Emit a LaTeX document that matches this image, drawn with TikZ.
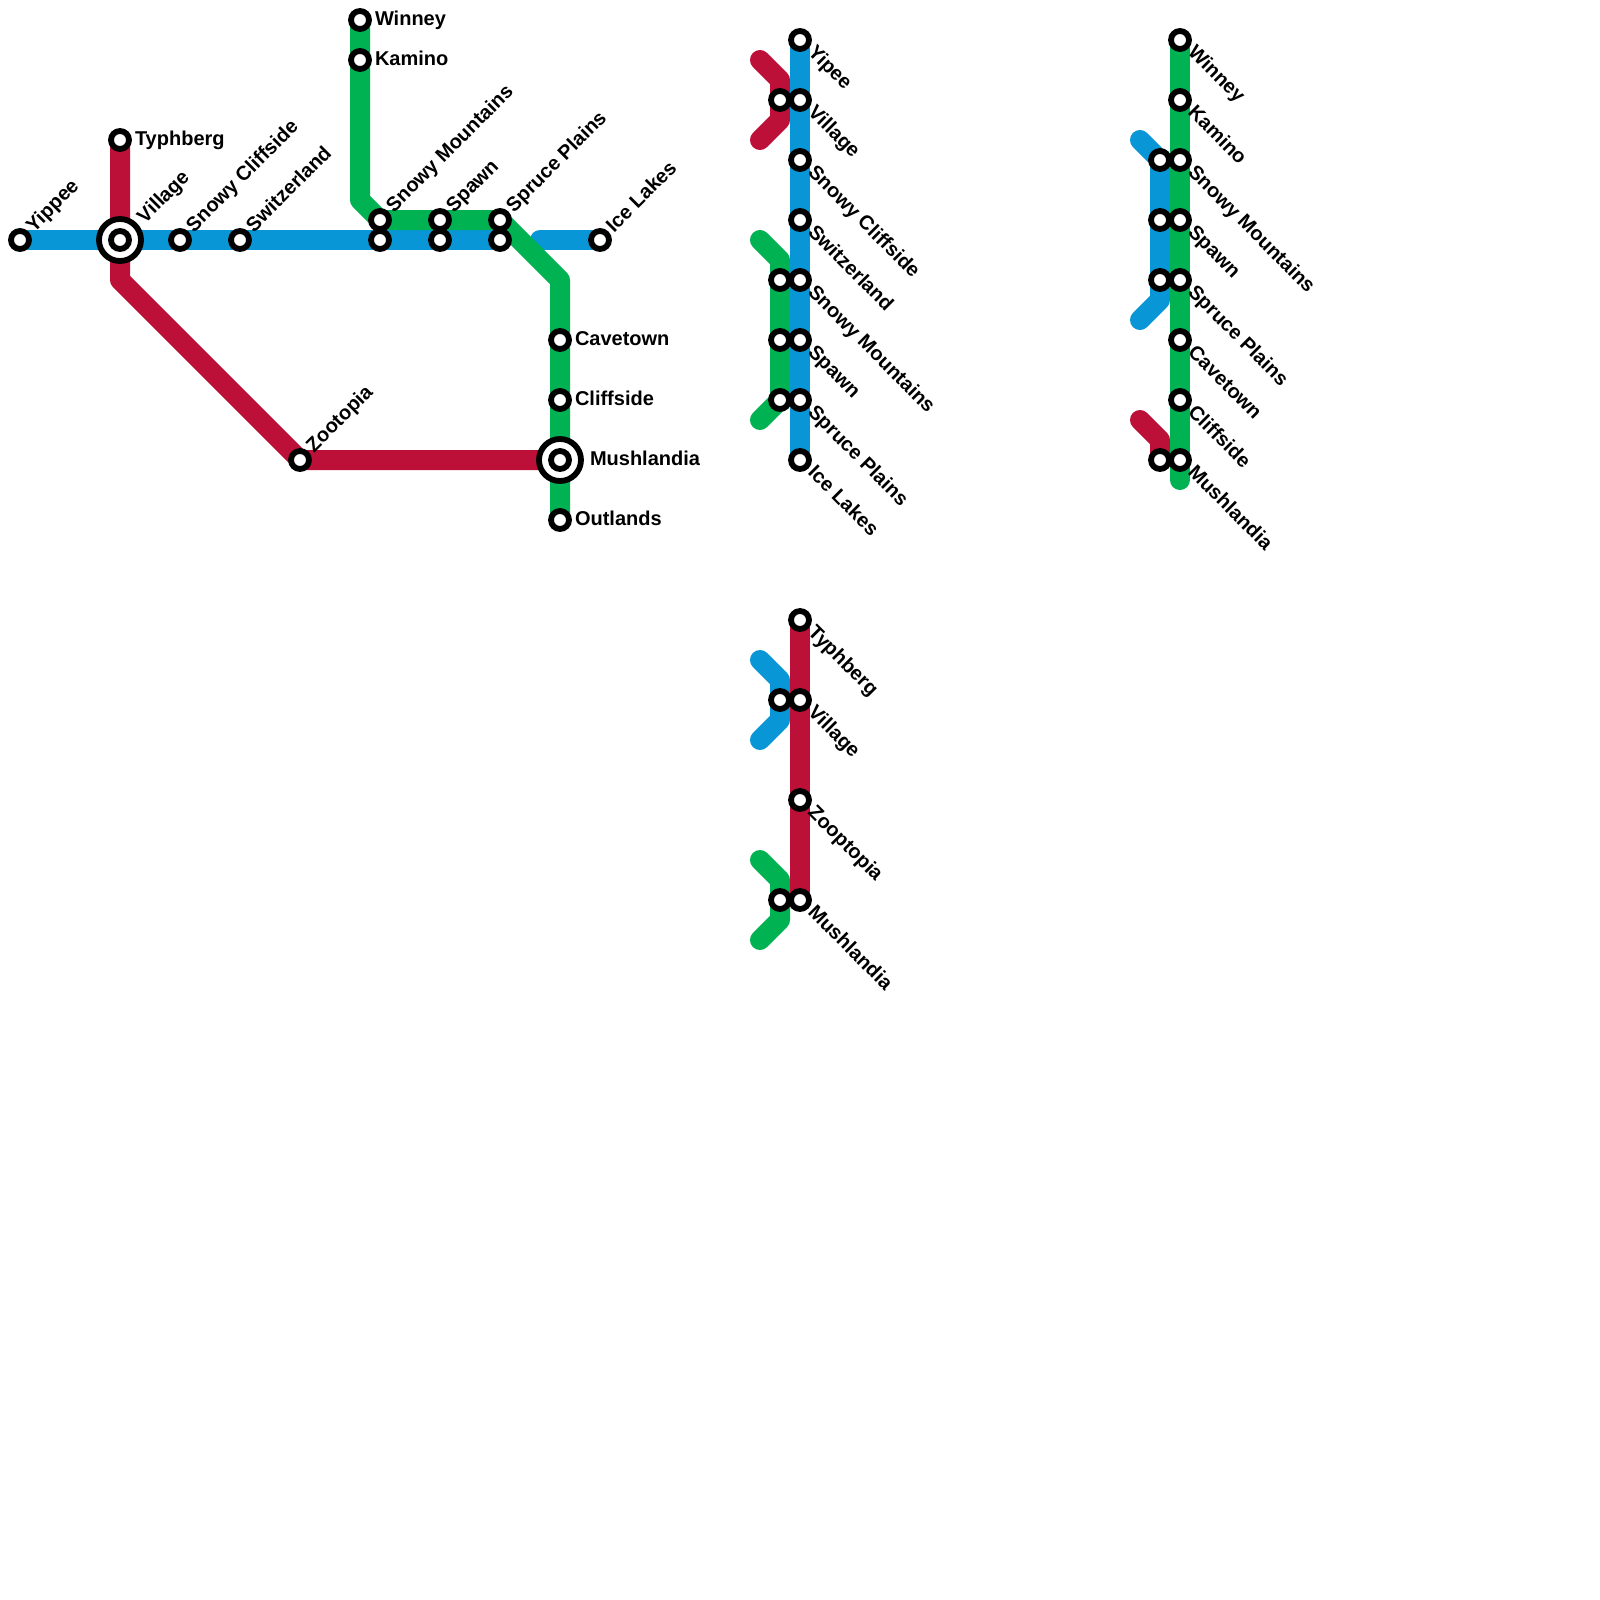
\documentclass[tikz,border=0pt]{standalone}
\usepackage{fontspec}
\setmainfont{Liberation Sans}
\usetikzlibrary{backgrounds}
\definecolor{lblue}{HTML}{0896D7}
\definecolor{lred}{HTML}{BD1038}
\definecolor{lgreen}{HTML}{00B251}
\tikzset{
  stn/.style={circle,draw=black,fill=white,line width=5.8pt,minimum size=18pt,inner sep=0pt,outer sep=0pt},
  hub/.style={circle,draw=black,fill=white,line width=5.8pt,minimum size=42pt,inner sep=0pt,outer sep=0pt},
  metro/.style={line width=20pt,line join=round,line cap=butt},
  rnd/.style={line width=20pt,line join=round,line cap=round},
  txt/.style={font=\fontsize{20}{24}\selectfont\bfseries,inner sep=0pt,outer sep=0pt,text=black},
  lblr/.style={txt,anchor=base west},
  lblu/.style={txt,anchor=base west,rotate=45},
  lbld/.style={txt,anchor=base west,rotate=-45},
}
\begin{document}
\begin{tikzpicture}[x=1pt,y=-1pt]
\path[use as bounding box] (0,0) rectangle (1600,1600);
% waypoints
\coordinate (g1) at (360,200);
\coordinate (g2) at (560,280);
\coordinate (r1) at (120,280);
\coordinate (b1) at (540,240);
% main map stations
\node[stn] (yippee) at (20,240) {};
\node[hub] (villagehub) at (120,240) {};
\node[stn] (village) at (120,240) {};
\node[stn] (snowyc) at (180,240) {};
\node[stn] (switz) at (240,240) {};
\node[stn] (snowmb) at (380,240) {};
\node[stn] (spawnb) at (440,240) {};
\node[stn] (spruceb) at (500,240) {};
\node[stn] (ice) at (600,240) {};
\node[stn] (snowmg) at (380,220) {};
\node[stn] (spawng) at (440,220) {};
\node[stn] (spruceg) at (500,220) {};
\node[stn] (typh) at (120,140) {};
\node[stn] (winney) at (360,20) {};
\node[stn] (kamino) at (360,60) {};
\node[stn] (cave) at (560,340) {};
\node[stn] (cliff) at (560,400) {};
\node[hub] (mushhub) at (560,460) {};
\node[stn] (mush) at (560,460) {};
\node[stn] (out) at (560,520) {};
\node[stn] (zoo) at (300,460) {};
% main labels
\node[lblu] (lyippee) at (34,233) {Yippee};
\node[lblu] (lvillage) at (145,224) {Village};
\node[lblu] (lsnowyc) at (194,233) {Snowy Cliffside};
\node[lblu] (lswitz) at (254,233) {Switzerland};
\node[lblu] (lsnowm) at (394,213) {Snowy Mountains};
\node[lblu] (lspawn) at (454,213) {Spawn};
\node[lblu] (lspruce) at (514,213) {Spruce Plains};
\node[lblu] (lice) at (614,233) {Ice Lakes};
\node[lblu] (lzoo) at (314,453) {Zootopia};
\node[lblr] (ltyph) at (135,145.5) {Typhberg};
\node[lblr] (lwinney) at (375,25.5) {Winney};
\node[lblr] (lkamino) at (375,65.5) {Kamino};
\node[lblr] (lcave) at (575,345.5) {Cavetown};
\node[lblr] (lcliff) at (575,405.5) {Cliffside};
\node[lblr] (lmush) at (590,465.5) {Mushlandia};
\node[lblr] (lout) at (575,525.5) {Outlands};
% panel 1
\foreach \n/\y in {a1/40,a2/100,a3/160,a4/220,a5/280,a6/340,a7/400,a8/460}{\node[stn] (\n) at (800,\y) {};}
\foreach \n/\y in {ax2/100,ax5/280,ax6/340,ax7/400}{\node[stn] (\n) at (780,\y) {};}
\coordinate (ar0) at (760,60);\coordinate (ar1) at (780,80);\coordinate (ar2) at (780,120);\coordinate (ar3) at (760,140);
\coordinate (ag0) at (760,240);\coordinate (ag1) at (780,260);\coordinate (ag2) at (780,400);\coordinate (ag3) at (760,420);
\node[lbld] (la1) at (807,53.5) {Yipee};
\node[lbld] (la2) at (807,113.5) {Village};
\node[lbld] (la3) at (807,173.5) {Snowy Cliffside};
\node[lbld] (la4) at (807,233.5) {Switzerland};
\node[lbld] (la5) at (807,293.5) {Snowy Mountains};
\node[lbld] (la6) at (807,353.5) {Spawn};
\node[lbld] (la7) at (807,413.5) {Spruce Plains};
\node[lbld] (la8) at (807,473.5) {Ice Lakes};
% panel 2
\foreach \n/\y in {c1/620,c2/700,c3/800,c4/900}{\node[stn] (\n) at (800,\y) {};}
\node[stn] (cx2) at (780,700) {};
\node[stn] (cx4) at (780,900) {};
\coordinate (cb0) at (760,660);\coordinate (cb1) at (780,680);\coordinate (cb2) at (780,720);\coordinate (cb3) at (760,740);
\coordinate (cg0) at (760,860);\coordinate (cg1) at (780,880);\coordinate (cg2) at (780,920);\coordinate (cg3) at (760,940);
\node[lbld] (lc1) at (807,633.5) {Typhberg};
\node[lbld] (lc2) at (807,713.5) {Village};
\node[lbld] (lc3) at (807,813.5) {Zooptopia};
\node[lbld] (lc4) at (807,913.5) {Mushlandia};
% panel 3
\foreach \n/\y in {d1/40,d2/100,d3/160,d4/220,d5/280,d6/340,d7/400,d8/460}{\node[stn] (\n) at (1180,\y) {};}
\foreach \n/\y in {dx3/160,dx4/220,dx5/280,dx8/460}{\node[stn] (\n) at (1160,\y) {};}
\coordinate (db0) at (1140,140);\coordinate (db1) at (1160,160);\coordinate (db2) at (1160,300);\coordinate (db3) at (1140,320);
\coordinate (dr0) at (1140,420);\coordinate (dr1) at (1160,440);
\coordinate (dg) at (1180,480);
\node[lbld] (ld1) at (1187,53.5) {Winney};
\node[lbld] (ld2) at (1187,113.5) {Kamino};
\node[lbld] (ld3) at (1187,173.5) {Snowy Mountains};
\node[lbld] (ld4) at (1187,233.5) {Spawn};
\node[lbld] (ld5) at (1187,293.5) {Spruce Plains};
\node[lbld] (ld6) at (1187,353.5) {Cavetown};
\node[lbld] (ld7) at (1187,413.5) {Cliffside};
\node[lbld] (ld8) at (1187,473.5) {Mushlandia};
\begin{scope}[on background layer]
\path[fill=white] (0,0) rectangle (1600,1600);
% main map
\draw[metro,lblue] (yippee.center) -- (spruceb.center);
\draw[rnd,lblue] (b1) -- (ice.center);
\draw[metro,lred] (typh.center) -- (r1) -- (zoo.center) -- (mush.center);
\draw[metro,lgreen] (winney.center) -- (g1) -- (snowmg.center) -- (spruceg.center) -- (g2) -- (out.center);
% panel 1
\draw[rnd,lred] (ar0) -- (ar1) -- (ar2) -- (ar3);
\draw[rnd,lgreen] (ag0) -- (ag1) -- (ag2) -- (ag3);
\draw[metro,lblue] (a1.center) -- (a8.center);
% panel 2
\draw[rnd,lblue] (cb0) -- (cb1) -- (cb2) -- (cb3);
\draw[rnd,lgreen] (cg0) -- (cg1) -- (cg2) -- (cg3);
\draw[metro,lred] (c1.center) -- (c4.center);
% panel 3
\draw[rnd,lblue] (db0) -- (db1) -- (db2) -- (db3);
\draw[rnd,lred] (dr0) -- (dr1) -- (dx8.center);
\draw[metro,lgreen] (d1.center) -- (d8.center);
\draw[rnd,lgreen] (d8.center) -- (dg);
\end{scope}
\end{tikzpicture}
\end{document}
